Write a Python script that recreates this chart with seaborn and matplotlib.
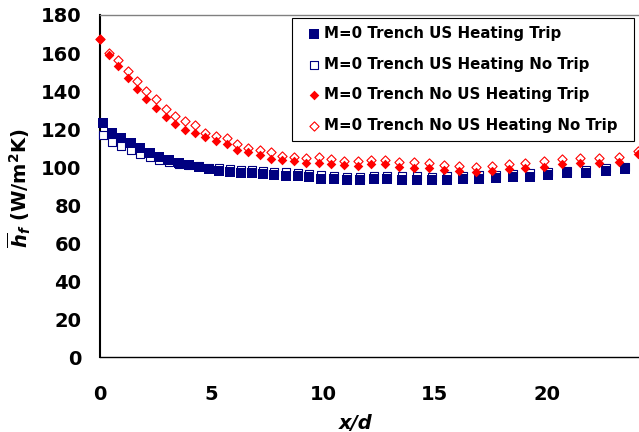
import matplotlib
matplotlib.use("Agg")
import matplotlib.pyplot as plt
import numpy as np
import pandas as pd
import seaborn as sns

# Streamwise positions (x/d) of the two measurement grids
x_no_us = [0.00, 0.42, 0.84, 1.26, 1.68, 2.09, 2.51, 2.96, 3.38, 3.82,
           4.27, 4.73, 5.20, 5.68, 6.16, 6.65, 7.16, 7.67, 8.18, 8.71,
           9.24, 9.80, 10.37, 10.95, 11.55, 12.14, 12.77, 13.39, 14.07, 14.75,
           15.42, 16.09, 16.82, 17.55, 18.32, 19.05, 19.86, 20.68, 21.51, 22.35,
           23.22, 24.08]
x_us = [0.16, 0.56, 0.97, 1.40, 1.82, 2.26, 2.67, 3.10, 3.54, 3.99,
        4.43, 4.90, 5.36, 5.84, 6.31, 6.81, 7.30, 7.80, 8.34, 8.86,
        9.37, 9.92, 10.49, 11.07, 11.67, 12.28, 12.88, 13.52, 14.18, 14.87,
        15.54, 16.24, 16.98, 17.73, 18.48, 19.25, 20.08, 20.91, 21.76, 22.64,
        23.52]

# Laterally averaged heat transfer coefficient, W/m^2K
h_us_trip = [123.0, 118.1, 115.5, 112.5, 109.9, 107.2, 105.5, 103.7, 102.3, 101.1,
             100.2, 99.0, 98.2, 97.4, 97.1, 96.8, 96.6, 95.9, 95.6, 95.2,
             94.6, 93.9, 93.5, 93.0, 93.0, 93.5, 93.7, 93.4, 93.4, 93.2,
             93.4, 93.5, 93.9, 94.3, 94.7, 95.0, 95.7, 96.7, 97.1, 98.0,
             98.9]
h_us_notrip = [116.9, 113.4, 111.1, 109.0, 106.9, 105.2, 103.9, 102.8, 101.8, 101.0,
               100.4, 99.8, 99.4, 98.9, 98.6, 98.4, 98.2, 97.6, 97.3, 96.9,
               96.3, 95.7, 95.3, 94.9, 94.9, 95.2, 95.4, 95.3, 95.2, 95.0,
               95.2, 95.4, 95.7, 96.1, 96.5, 96.7, 97.3, 98.2, 98.6, 99.4,
               100.3]
h_nous_trip = [167.4, 159.2, 153.0, 147.0, 141.2, 135.7, 131.0, 126.4, 122.7, 119.5,
               117.7, 115.8, 113.6, 112.2, 109.0, 107.7, 106.4, 104.5, 103.9, 103.0,
               102.3, 102.0, 101.9, 101.1, 100.6, 101.6, 101.6, 100.3, 99.8, 99.4,
               98.5, 98.2, 97.7, 98.2, 98.8, 99.3, 100.1, 101.8, 102.0, 102.0,
               102.9, 107.1]
h_nous_notrip = [167.4, 160.0, 156.2, 150.4, 145.4, 140.1, 135.6, 130.6, 127.0, 124.2,
                 122.4, 118.0, 116.6, 115.2, 112.1, 110.3, 109.0, 107.7, 106.0, 105.1,
                 105.0, 105.2, 104.5, 103.3, 103.3, 104.0, 103.8, 102.9, 102.5, 102.0,
                 101.3, 100.8, 100.3, 100.8, 101.5, 102.0, 103.0, 104.2, 104.7, 104.8,
                 105.5, 108.5]

labels = ["M=0 Trench US Heating Trip",
          "M=0 Trench US Heating No Trip",
          "M=0 Trench No US Heating Trip",
          "M=0 Trench No US Heating No Trip"]

NAVY = "#000080"
RED = "#FF0000"

sns.set_style("white")
plt.rcParams["font.family"] = ["DejaVu Sans"]
plt.rcParams["font.weight"] = "bold"
plt.rcParams["text.color"] = "black"
plt.rcParams["axes.labelcolor"] = "black"
plt.rcParams["mathtext.fontset"] = "custom"
plt.rcParams["mathtext.it"] = "DejaVu Sans:italic:bold"
plt.rcParams["mathtext.rm"] = "DejaVu Sans:bold"
plt.rcParams["mathtext.bf"] = "DejaVu Sans:bold"

W, H = 639, 432
fig = plt.figure(figsize=(W / 100, H / 100), dpi=100)
ax = fig.add_axes([99.5 / W, 74.7 / H, 539.5 / W, 342.3 / H])

df_us_trip = pd.DataFrame({"x": x_us, "h": h_us_trip})
df_us_notrip = pd.DataFrame({"x": x_us, "h": h_us_notrip})
df_nous_trip = pd.DataFrame({"x": x_no_us, "h": h_nous_trip})
df_nous_notrip = pd.DataFrame({"x": x_no_us, "h": h_nous_notrip})

# open symbols underneath, filled symbols on top
sns.scatterplot(data=df_us_notrip, x="x", y="h", marker="s", s=36,
                facecolor="white", edgecolor=NAVY, linewidth=0.8,
                label=labels[1], zorder=3, clip_on=False, ax=ax)
sns.scatterplot(data=df_nous_notrip, x="x", y="h", marker="D", s=22,
                facecolor="white", edgecolor=RED, linewidth=0.8,
                label=labels[3], zorder=3, clip_on=False, ax=ax)
sns.scatterplot(data=df_us_trip, x="x", y="h", marker="s", s=44,
                color=NAVY, edgecolor=NAVY, linewidth=0,
                label=labels[0], zorder=4, clip_on=False, ax=ax)
sns.scatterplot(data=df_nous_trip, x="x", y="h", marker="D", s=24,
                color=RED, edgecolor=RED, linewidth=0,
                label=labels[2], zorder=4, clip_on=False, ax=ax)

ax.set_xlim(0, 539.5 / 22.36)
ax.set_ylim(0, 180)
ax.set_xticks([0, 5, 10, 15, 20])
ax.set_yticks(np.arange(0, 181, 20))

for side in ("left", "bottom"):
    ax.spines[side].set_color("black")
ax.spines["left"].set_linewidth(1.5)
ax.spines["bottom"].set_linewidth(1.0)
ax.spines["top"].set_visible(True)
ax.spines["top"].set_color("#808080")
ax.spines["top"].set_linewidth(1.0)
ax.spines["right"].set_visible(False)

ax.tick_params(axis="both", direction="out", length=6, width=0.8,
               color="#505050", labelsize=14, labelcolor="black")
ax.tick_params(axis="y", pad=7)
ax.tick_params(axis="x", pad=14)
for lab in ax.get_xticklabels() + ax.get_yticklabels():
    lab.set_fontweight("bold")

ax.set_xlabel("x/d", fontsize=14, fontweight="bold", style="italic", color="black")
ax.xaxis.set_label_coords(0.475, -0.165)
ax.set_ylabel(r"$\overline{h}_f$ (W/m$^2$K)", fontsize=14, fontweight="bold", color="black")
ax.yaxis.set_label_coords(-0.123, 0.495)

handles, labs = ax.get_legend_handles_labels()
order = [labs.index(l) for l in labels]
leg = ax.legend([handles[i] for i in order], [labs[i] for i in order],
                loc="upper left",
                bbox_to_anchor=(292 / W, 1 - 139 / H, 342 / W, 121 / H),
                bbox_transform=fig.transFigure, borderaxespad=0, mode="expand",
                frameon=True, fancybox=False, shadow=False,
                prop={"size": 10.8, "weight": "bold"},
                scatterpoints=1, handlelength=1.8, handletextpad=-0.2,
                borderpad=0.55, labelspacing=1.03)
for t in leg.get_texts():
    t.set_color("black")
leg.get_frame().set_edgecolor("black")
leg.get_frame().set_linewidth(0.8)
leg.get_frame().set_facecolor("white")
leg.get_frame().set_alpha(1)
leg.set_zorder(10)

fig.savefig("out.png", dpi=100, facecolor="white")
